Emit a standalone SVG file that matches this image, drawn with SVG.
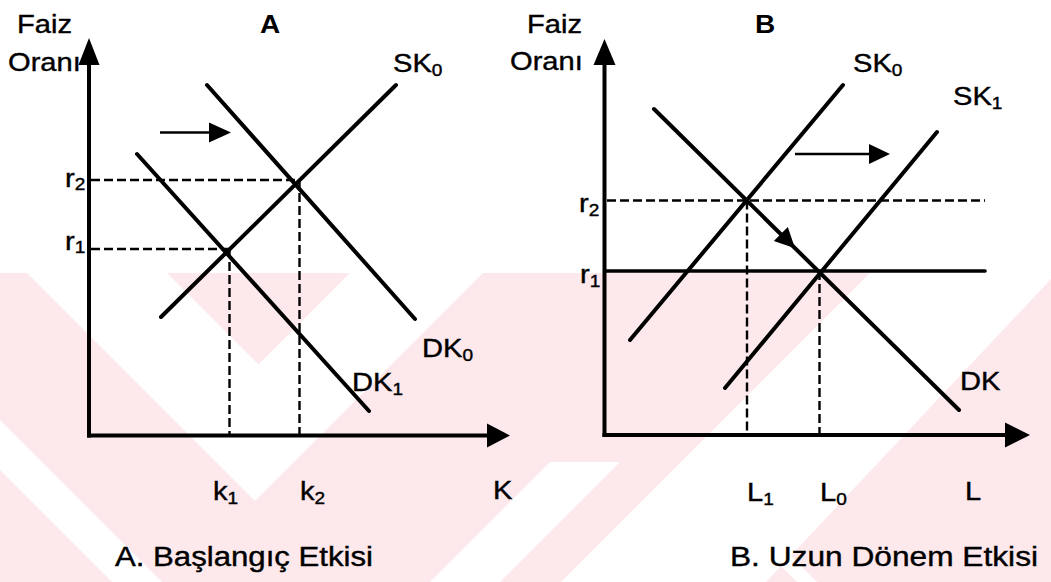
<svg xmlns="http://www.w3.org/2000/svg" width="1051" height="582" viewBox="0 0 1051 582">
  <defs>
    <style>
      .wm { fill: #fde8ec; }
      .wmw { fill: #ffffff; }
      .axis { stroke: #000; stroke-width: 4; fill: none; }
      .curve { stroke: #000; stroke-width: 4; fill: none; stroke-linecap: round; }
      .dash { stroke: #000; stroke-width: 2.4; fill: none; stroke-dasharray: 9 4; }
      .shaft { stroke: #000; stroke-width: 2.6; fill: none; }
      .head { fill: #000; }
      .lbl { font-family: "Liberation Sans", Arial, Helvetica, sans-serif; font-size: 26px; fill: #000; stroke: #000; stroke-width: 0.4; }
      .ttl { font-family: "Liberation Sans", Arial, Helvetica, sans-serif; font-size: 25px; font-weight: bold; fill: #000; }
      .cap { font-family: "Liberation Sans", Arial, Helvetica, sans-serif; font-size: 27px; fill: #000; stroke: #000; stroke-width: 0.4; }
      .sub { font-size: 17px; }
    </style>
  </defs>

  <rect width="1051" height="582" fill="#ffffff"/>

  <!-- faint background pattern in the lower half -->
  <g id="background-pattern">
    <rect class="wm" x="0" y="273" width="1051" height="309"/>
    <polygon class="wmw" points="27,273 167,273 258.5,364.5 350,273 483,273 255,501"/>
    <polygon class="wmw" points="870,273 1051,273 1051,279 766,582 561,582"/>
    <polygon class="wmw" points="0,420 0,470 112,582 162,582"/>
    <polygon class="wmw" points="430,582 500,582 620,462 550,462"/>
    <polygon class="wmw" points="683,468 703,468 817,582 797,582 690,475 583,582 563,582"/>
  </g>

  <!-- Panel A -->
  <g id="panel-a">
    <g id="a-axes">
      <line class="axis" x1="89" y1="437.5" x2="89" y2="62"/>
      <polygon class="head" points="78.5,65 89,38 99.5,65"/>
      <line class="axis" x1="87" y1="435.5" x2="489" y2="435.5"/>
      <polygon class="head" points="487,423.5 510,435.5 487,447.5"/>
    </g>
    <g id="a-guides">
      <line class="dash" x1="91" y1="180" x2="298" y2="180"/>
      <line class="dash" x1="299.5" y1="180" x2="299.5" y2="434"/>
      <line class="dash" x1="91" y1="249" x2="229" y2="249"/>
      <line class="dash" x1="229.5" y1="249" x2="229.5" y2="434"/>
    </g>
    <g id="a-curves">
      <line id="a-sk0" class="curve" x1="161" y1="317" x2="396" y2="85"/>
      <line id="a-dk0" class="curve" x1="207" y1="85" x2="415" y2="319"/>
      <line id="a-dk1" class="curve" x1="137" y1="154" x2="369" y2="411"/>
    </g>
    <g id="a-shift-arrow">
      <line class="shaft" x1="160" y1="132.5" x2="212" y2="132.5"/>
      <polygon class="head" points="209,122.5 231,132.5 209,142.5"/>
    </g>
    <g id="a-labels">
      <text class="lbl" transform="translate(17 33) scale(1.12 1)">Faiz</text>
      <text class="lbl" transform="translate(8 71) scale(1.12 1)">Oranı</text>
      <text class="ttl" transform="translate(260 33) scale(1.12 1)">A</text>
      <text class="lbl" transform="translate(393 72) scale(1.12 1)">SK<tspan class="sub" dy="4">0</tspan></text>
      <text class="lbl" transform="translate(65 187) scale(1.12 1)">r<tspan class="sub" dy="3">2</tspan></text>
      <text class="lbl" transform="translate(65 250) scale(1.12 1)">r<tspan class="sub" dy="3">1</tspan></text>
      <text class="lbl" transform="translate(422 357) scale(1.12 1)">DK<tspan class="sub" dy="4">0</tspan></text>
      <text class="lbl" transform="translate(352 391) scale(1.12 1)">DK<tspan class="sub" dy="4">1</tspan></text>
      <text class="lbl" transform="translate(213 500) scale(1.12 1)">k<tspan class="sub" dy="4">1</tspan></text>
      <text class="lbl" transform="translate(300 500) scale(1.12 1)">k<tspan class="sub" dy="4">2</tspan></text>
      <text class="lbl" transform="translate(493 499) scale(1.12 1)">K</text>
      <text class="cap" x="115" y="566" textLength="258" lengthAdjust="spacingAndGlyphs">A. Başlangıç Etkisi</text>
    </g>
  </g>

  <!-- Panel B -->
  <g id="panel-b">
    <g id="b-axes">
      <line class="axis" x1="604.5" y1="437" x2="604.5" y2="62"/>
      <polygon class="head" points="593.5,65 604.5,39 615.5,65"/>
      <line class="axis" x1="602.5" y1="435" x2="1008" y2="435"/>
      <polygon class="head" points="1005,422.5 1030,435 1005,447.5"/>
    </g>
    <g id="b-guides">
      <line class="dash" x1="607" y1="200.5" x2="985" y2="200.5"/>
      <line class="dash" x1="747" y1="200.5" x2="747" y2="433"/>
      <line class="dash" x1="819.5" y1="271" x2="819.5" y2="433"/>
      <line class="curve" x1="606" y1="271" x2="985" y2="271" style="stroke-width:3.6"/>
    </g>
    <g id="b-curves">
      <line id="b-sk0" class="curve" x1="630" y1="340" x2="843" y2="85"/>
      <line id="b-sk1" class="curve" x1="725" y1="388" x2="937" y2="132"/>
      <line id="b-dk" class="curve" x1="654" y1="109" x2="959" y2="410"/>
    </g>
    <g id="b-shift-arrows">
      <line class="shaft" x1="795" y1="154" x2="872" y2="154"/>
      <polygon class="head" points="869,144 890,154 869,164"/>
      <polygon class="head" points="773.8,241.1 795,248.2 787.8,226.9"/>
    </g>
    <g id="b-labels">
      <text class="lbl" transform="translate(527 33) scale(1.12 1)">Faiz</text>
      <text class="lbl" transform="translate(510 70) scale(1.12 1)">Oranı</text>
      <text class="ttl" transform="translate(755 33) scale(1.12 1)">B</text>
      <text class="lbl" transform="translate(853 72) scale(1.12 1)">SK<tspan class="sub" dy="4">0</tspan></text>
      <text class="lbl" transform="translate(953 105) scale(1.12 1)">SK<tspan class="sub" dy="4">1</tspan></text>
      <text class="lbl" transform="translate(579 212) scale(1.12 1)">r<tspan class="sub" dy="4">2</tspan></text>
      <text class="lbl" transform="translate(580 283) scale(1.12 1)">r<tspan class="sub" dy="4">1</tspan></text>
      <text class="lbl" transform="translate(960 390) scale(1.12 1)">DK</text>
      <text class="lbl" transform="translate(747 501) scale(1.12 1)">L<tspan class="sub" dy="4">1</tspan></text>
      <text class="lbl" transform="translate(820 501) scale(1.12 1)">L<tspan class="sub" dy="4">0</tspan></text>
      <text class="lbl" transform="translate(965 500) scale(1.12 1)">L</text>
      <text class="cap" x="730" y="566" textLength="308" lengthAdjust="spacingAndGlyphs">B.  Uzun Dönem Etkisi</text>
    </g>
  </g>
</svg>
